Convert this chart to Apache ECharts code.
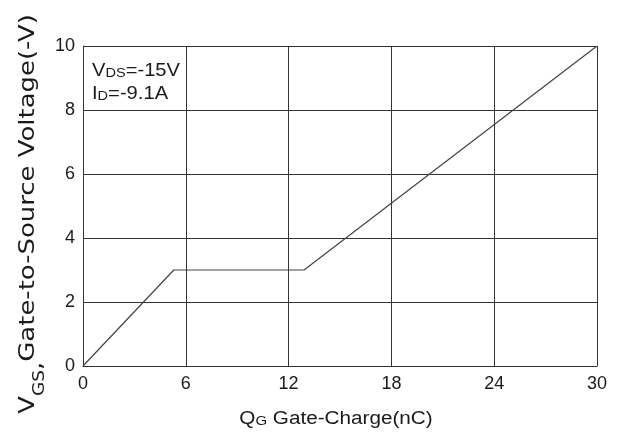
<!DOCTYPE html>
<html><head><meta charset="utf-8">
<script src="https://cdn.jsdelivr.net/npm/echarts@6/dist/echarts.min.js"></script>
<style>html,body{margin:0;padding:0;background:#fff}#c{width:627px;height:432px}</style>
</head><body><div id="c"></div>
<script>
const qg = [0, 5.3, 12.9, 30];
const vgs = [0, 3.0, 3.0, 10];
const xTicks = [0, 6, 12, 18, 24, 30];
const yTicks = [0, 2, 4, 6, 8, 10];
const xTitle = ['Q', 'G', ' Gate-Charge(nC)'];
const yTitle = ['V', 'GS', ',', 'Gate-to-Source Voltage(-V)'];
const note1 = ['V', 'DS', '=-15V'];
const note2 = ['I', 'D', '=-9.1A'];

const chart = echarts.init(document.getElementById('c'));
const gridColor = '#333';
const txt = '#1a1a1a';
chart.setOption({
  backgroundColor: '#fff',
  animation: false,
  grid: {left: 83, right: 30, top: 46, bottom: 66},
  xAxis: {
    type: 'value', min: 0, max: 30, interval: 6,
    axisLine: {show: true, lineStyle: {color: gridColor, width: 1}},
    axisTick: {show: false},
    splitLine: {show: true, lineStyle: {color: gridColor, width: 1}},
    axisLabel: {color: txt, fontSize: 18, fontFamily: 'Liberation Sans', margin: 9,
      formatter: v => xTicks.includes(v) ? String(v) : ''}
  },
  yAxis: {
    type: 'value', min: 0, max: 10, interval: 2,
    axisLine: {show: true, lineStyle: {color: gridColor, width: 1}},
    axisTick: {show: false},
    splitLine: {show: true, lineStyle: {color: gridColor, width: 1}},
    axisLabel: {color: txt, fontSize: 18, fontFamily: 'Liberation Sans', margin: 8,
      formatter: v => yTicks.includes(v) ? String(v) : ''}
  },
  graphic: [
    {
      type: 'text', x: 336, y: 417, scaleX: 1.15,
      style: {
        text: '{a|' + xTitle[0] + '}{b|' + xTitle[1] + '}{a|' + xTitle[2] + '}',
        align: 'center', verticalAlign: 'middle',
        rich: {
          a: {fontSize: 18, fontFamily: 'Liberation Sans', fill: txt, lineHeight: 22, verticalAlign: 'bottom'},
          b: {fontSize: 13, fontFamily: 'Liberation Sans', fill: txt, lineHeight: 20, verticalAlign: 'bottom'}
        }
      }
    },
    {
      type: 'text', x: 33, y: 214, scaleX: 1.234, rotation: Math.PI / 2,
      style: {
        text: '{a|' + yTitle[0] + '}{b|' + yTitle[1] + '}{c|' + yTitle[2] + '}{a|' + yTitle[3] + '}',
        align: 'center', verticalAlign: 'middle',
        rich: {
          a: {fontSize: 21, fontFamily: 'DejaVu Sans', fill: txt, lineHeight: 29, verticalAlign: 'top'},
          b: {fontSize: 15, fontFamily: 'DejaVu Sans', fill: txt, lineHeight: 15, verticalAlign: 'bottom'},
          c: {fontSize: 21, fontFamily: 'DejaVu Sans', fill: txt, lineHeight: 21, verticalAlign: 'bottom'}
        }
      }
    },
    {
      type: 'text', x: 92, y: 68.7, scaleX: 1.12,
      style: {
        text: '{a|' + note1[0] + '}{b|' + note1[1] + '}{a|' + note1[2] + '}',
        align: 'left', verticalAlign: 'middle',
        rich: {
          a: {fontSize: 18, fontFamily: 'Liberation Sans', fill: txt, lineHeight: 22, verticalAlign: 'bottom'},
          b: {fontSize: 13, fontFamily: 'Liberation Sans', fill: txt, lineHeight: 20, verticalAlign: 'bottom'}
        }
      }
    },
    {
      type: 'text', x: 92, y: 91.7, scaleX: 1.12,
      style: {
        text: '{a|' + note2[0] + '}{b|' + note2[1] + '}{a|' + note2[2] + '}',
        align: 'left', verticalAlign: 'middle',
        rich: {
          a: {fontSize: 18, fontFamily: 'Liberation Sans', fill: txt, lineHeight: 22, verticalAlign: 'bottom'},
          b: {fontSize: 13, fontFamily: 'Liberation Sans', fill: txt, lineHeight: 20, verticalAlign: 'bottom'}
        }
      }
    }
  ],
  series: [{
    type: 'line',
    data: qg.map((x, i) => [x, vgs[i]]),
    symbol: 'none',
    lineStyle: {color: '#444', width: 1.2}
  }]
});
</script></body></html>
